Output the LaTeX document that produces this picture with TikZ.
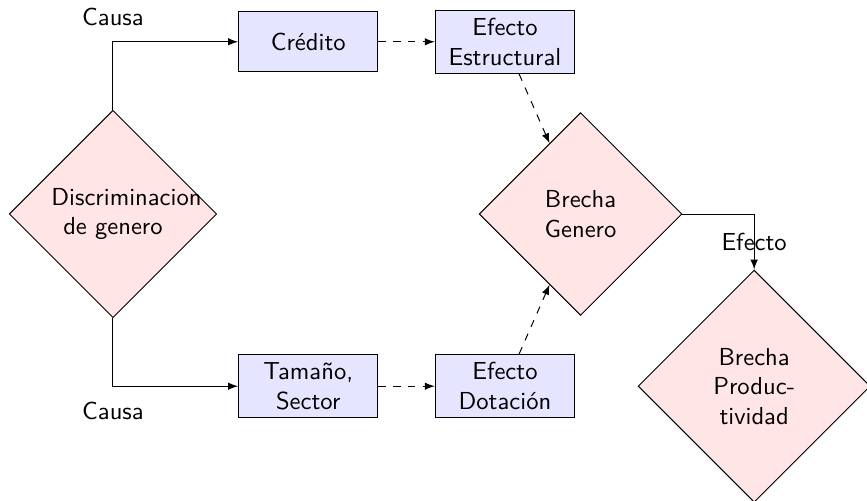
\documentclass[tikz,border=0pt]{standalone}
\usetikzlibrary{shapes.geometric}
\begin{document}
\begin{tikzpicture}[font=\sffamily,
    decision/.style={diamond, draw, fill=red!10, text width=5em, align=center},
    block/.style={rectangle, draw, fill=blue!10, text width=5em, align=center, minimum height=8.6mm},
    conn/.style={draw, -latex},
    dashconn/.style={draw, dashed, -latex}]
    % Fix picture size
    \useasboundingbox (-1.614,-4.10) rectangle (10.772,3.057);
    % Draw decisions
    \node[decision] (disc) at (0,0) {Discriminacion de genero};
    \node[decision] (bgen) at (6.68,0) {Brecha Genero};
    \node[decision] (bprod) at (9.16,-2.46) {Brecha Productividad};
    % Draw blocks
    \node[block] (cred) at (2.79,2.46) {Crédito};
    \node[block] (estr) at (5.6,2.46) {Efecto Estructural};
    \node[block] (tam) at (2.79,-2.46) {Tamaño, Sector};
    \node[block] (dot) at (5.6,-2.46) {Efecto Dotación};
    % Draw causes
    \path[conn] (disc) |- node[above=3pt] {Causa} (cred);
    \path[conn] (disc) |- node[below=3pt] {Causa} (tam);
    % Draw effects
    \path[dashconn] (cred) -- (estr);
    \path[dashconn] (tam) -- (dot);
    \path[dashconn] (estr) -- (bgen);
    \path[dashconn] (dot) -- (bgen);
    \path[conn] (bgen) -| node[near end] {Efecto} (bprod); % Effect on productivity
\end{tikzpicture}
\end{document}
